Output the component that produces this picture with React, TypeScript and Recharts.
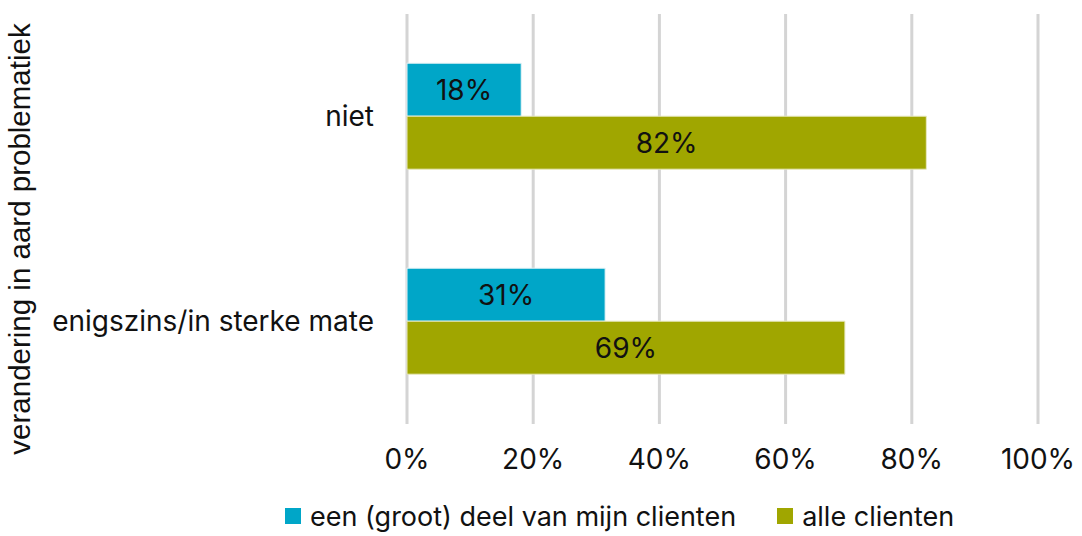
import { BarChart, Bar, XAxis, YAxis, CartesianGrid, Legend, LabelList } from "recharts";

const categories = ["niet", "enigszins/in sterke mate"];
const deelValues = [18.1, 31.4];
const alleValues = [82.3, 69.4];
const xTicks = [0, 20, 40, 60, 80, 100];

const seriesNames = {
  deel: "een (groot) deel van mijn clienten",
  alle: "alle clienten",
};

const BLUE = "#00a6c8";
const OLIVE = "#a0a600";
const FONT = "Inter, 'Noto Sans', sans-serif";

const data = categories.map((name, i) => ({
  name,
  deel: deelValues[i],
  alle: alleValues[i],
}));

const legendItems = [
  { value: seriesNames.deel, color: BLUE },
  { value: seriesNames.alle, color: OLIVE },
];

const pct = (v: any) => `${Math.round(Number(v))}%`;

const LegendContent = () => (
  <div style={{ display: "flex", alignItems: "center", height: 40, paddingLeft: 285, fontFamily: FONT, fontSize: 27, color: "#111" }}>
    {legendItems.map((item, i) => (
      <div key={i} style={{ display: "flex", alignItems: "center", marginRight: 41 }}>
        <span style={{ display: "inline-block", width: 16, height: 16, background: item.color, marginRight: 9 }} />
        <span>{item.value}</span>
      </div>
    ))}
  </div>
);

const App = () => {
  return (
    <div style={{ position: "absolute", left: 0, top: 0, width: 1082, height: 536, background: "#fff" }}>
      <BarChart
        layout="vertical"
        width={1082}
        height={536}
        data={data}
        margin={{ top: 14, right: 44, left: 0, bottom: 0 }}
        barCategoryGap="24%"
        barGap={0}
      >
        <CartesianGrid horizontal={false} stroke="#d4d4d4" strokeWidth={3} />
        <XAxis
          type="number"
          domain={[0, 100]}
          ticks={xTicks}
          tickFormatter={(v) => `${v}%`}
          axisLine={false}
          tickLine={false}
          tickSize={0}
          tickMargin={25}
          height={72}
          tick={{ fill: "#111", fontSize: 28, fontFamily: FONT }}
        />
        <YAxis
          type="category"
          dataKey="name"
          width={407}
          axisLine={false}
          tickLine={false}
          tickSize={0}
          tickMargin={33}
          tick={{ fill: "#111", fontSize: 28, fontFamily: FONT }}
        />
        <Legend verticalAlign="bottom" height={40} content={<LegendContent />} wrapperStyle={{ left: 0, width: 1082 }} />
        <Bar dataKey="deel" name={seriesNames.deel} fill={BLUE} stroke="#e6f4f7" strokeWidth={1} isAnimationActive={false}>
          <LabelList dataKey="deel" position="center" formatter={pct} fill="#111" fontSize={28} fontFamily={FONT} />
        </Bar>
        <Bar dataKey="alle" name={seriesNames.alle} fill={OLIVE} stroke="#e8e9c0" strokeWidth={1} isAnimationActive={false}>
          <LabelList dataKey="alle" position="center" formatter={pct} fill="#111" fontSize={28} fontFamily={FONT} />
        </Bar>
      </BarChart>
      <div
        style={{
          position: "absolute",
          left: 20,
          top: 239,
          transform: "translate(-50%, -50%) rotate(-90deg)",
          whiteSpace: "nowrap",
          fontFamily: "'Liberation Sans', Arial, sans-serif",
          fontSize: 29.5,
          color: "#111",
        }}
      >
        verandering in aard problematiek
      </div>
    </div>
  );
};

export default App;
